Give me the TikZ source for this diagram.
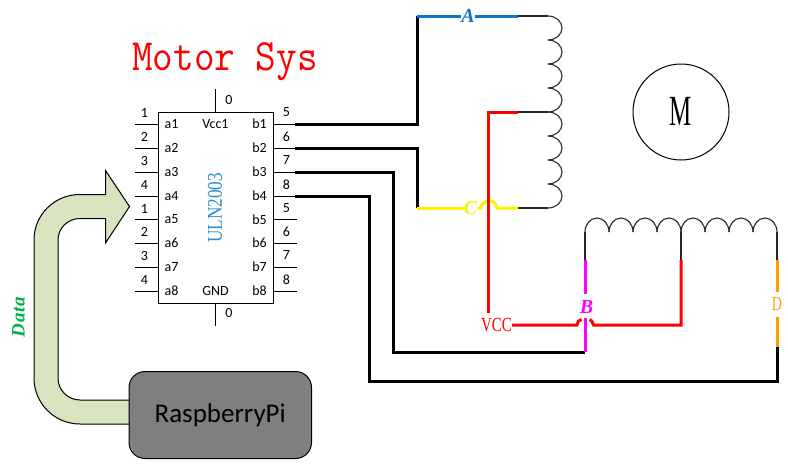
\documentclass[tikz,border=0pt]{standalone}
\usepackage{fontspec}
\setmainfont{Carlito}
\newfontfamily\serifface{Liberation Serif}
\newfontfamily\monoface{Latin Modern Mono}
\definecolor{chipblue}{HTML}{2E8BD0}
\definecolor{wireblue}{HTML}{0F75CC}
\definecolor{wireorange}{HTML}{FF9C00}
\definecolor{wiremagenta}{HTML}{FF00FF}
\definecolor{datagreen}{HTML}{00B050}
\definecolor{arrowfill}{HTML}{D8E3BF}
\definecolor{pigrey}{HTML}{7F7F7F}
\tikzset{
  chipbox/.style={draw=black,line width=1pt,fill=white,minimum width=115pt,minimum height=191pt,inner sep=0pt},
  pinline/.style={draw=black,line width=1pt},
  pinlabel/.style={inner sep=0pt,font=\fontsize{14}{14}\selectfont},
  wire/.style={line width=3pt,line join=miter},
  coilline/.style={draw=black!85,line width=1.1pt},
  letter/.style={inner sep=0pt,font=\serifface\bfseries\itshape\fontsize{20}{20}\selectfont},
}
\newcommand{\coilV}[1]{%
  \foreach \s in {0,24,48,72} {
    \draw[coilline] (548,#1+\s) .. controls (555.7,#1+\s) and (562,#1+\s+5.4) .. (562,#1+\s+12)
      .. controls (562,#1+\s+18.6) and (555.7,#1+\s+24) .. (548,#1+\s+24);
  }}
\newcommand{\coilH}[1]{%
  \foreach \s in {0,24,48,72} {
    \draw[coilline] (#1+\s,232) .. controls (#1+\s,224.3) and (#1+\s+5.4,218) .. (#1+\s+12,218)
      .. controls (#1+\s+18.6,218) and (#1+\s+24,224.3) .. (#1+\s+24,232);
  }}
\begin{document}
\begin{tikzpicture}[x=1pt,y=-1pt]
\useasboundingbox (0,0) rectangle (788,466);

% title
\node[inner sep=0pt,text=red,yscale=1.12,font=\monoface\fontsize{40}{40}\selectfont] (title) at (225,61.5) {Motor Sys};

% chip
\node[chipbox] (chip) at (215.75,207.5) {};
\node[inner sep=0pt,rotate=90,xscale=.82,text=chipblue,font=\serifface\fontsize{21}{21}\selectfont] (chipname) at (215,208) {ULN2003};
\coordinate (vcctop) at (215.5,89);
\coordinate (vccbot) at (215.5,112);
\coordinate (gndtop) at (215.5,303);
\coordinate (gndbot) at (215.5,326);
\draw[pinline] (vcctop) -- (vccbot);
\draw[pinline] (gndtop) -- (gndbot);
\node[pinlabel] (vcczero) at (229,100.5) {0};
\node[pinlabel] (gndzero) at (229,313.5) {0};
\node[pinlabel] (vcclab) at (215.5,124) {Vcc1};
\node[pinlabel] (gndlab) at (215.5,291) {GND};

\foreach \i/\yy/\n/\m in {1/124/1/5,2/148/2/6,3/172/3/7,4/196/4/8,5/219.5/1/5,6/243/2/6,7/267/3/7,8/291/4/8} {
  \coordinate (la\i) at (135,\yy);
  \coordinate (lb\i) at (158,\yy);
  \coordinate (ra\i) at (273.5,\yy);
  \coordinate (rb\i) at (297,\yy);
  \draw[pinline] (la\i) -- (lb\i);
  \draw[pinline] (ra\i) -- (rb\i);
  \node[pinlabel] (a\i) at (171.5,\yy) {a\i};
  \node[pinlabel] (b\i) at (259.5,\yy) {b\i};
  \node[pinlabel] (ln\i) at (144.5,\yy-11) {\n};
  \node[pinlabel] (rn\i) at (286.5,\yy-11.5) {\m};
}

% motor
\node[draw=black,line width=1pt,circle,minimum size=96pt,inner sep=0pt] (motor) at (681,112) {};
\node[inner sep=0pt,xscale=.58,font=\serifface\fontsize{43}{43}\selectfont] (motorM) at (681,111) {M};

% coils
\coilV{16}
\coilV{112}
\coilH{585}
\coilH{681}

% coordinates of wiring
\coordinate (A1) at (417,16);
\coordinate (A2) at (518,16);
\coordinate (A3) at (548,16);
\coordinate (AM) at (518,112);
\coordinate (AM2) at (548,112);
\coordinate (C1) at (417,208);
\coordinate (C2) at (518,208);
\coordinate (C3) at (548,208);
\coordinate (Rc) at (488.5,112);
\coordinate (Rv) at (488.5,313);
\coordinate (b1s) at (295,124);
\coordinate (b2s) at (295,148);
\coordinate (b3s) at (295,172);
\coordinate (b4s) at (295,196);
\coordinate (Bt) at (585,232);
\coordinate (Bu) at (585,260);
\coordinate (Bv) at (585,294);
\coordinate (Bw) at (585,318);
\coordinate (Bx) at (585,352);
\coordinate (Mt) at (681,232);
\coordinate (Mu) at (681,260);
\coordinate (Mv) at (681,325);
\coordinate (Dt) at (777,232);
\coordinate (Du) at (777,260);
\coordinate (Dv) at (777,291.5);
\coordinate (Dw) at (777,317);
\coordinate (Dx) at (777,346.5);
\coordinate (Dy) at (777,381);
\coordinate (b3c) at (393,172);
\coordinate (b4c) at (369,196);

% thin leads
\draw[coilline] (A2) -- (A3);
\draw[coilline] (AM) -- (AM2);
\draw[coilline] (C2) -- (C3);
\draw[coilline] (Bt) -- (Bu);
\draw[coilline] (Mt) -- (Mu);
\draw[coilline] (Dt) -- (Du);

% labels
\node[letter,text=wireblue] (Alab) at (468,16) {A};
\node[letter,text=yellow] (Clab) at (470.5,208) {C};
\node[letter,text=wiremagenta] (Blab) at (586.5,306.5) {B};
\node[inner sep=0pt,text=wireorange,font=\serifface\fontsize{20}{20}\selectfont,xscale=.7] (Dlab) at (777,304) {D};
\node[inner sep=0pt,text=red,font=\serifface\fontsize{20}{20}\selectfont,xscale=.75] (Vlab) at (496.5,325) {VCC};

% black wires
\draw[wire] (b1s) -| (A1);
\draw[wire] (b2s) -| (C1);
\draw[wire] (b3s) -- (b3c) |- (Bx);
\draw[wire] (b4s) -- (b4c) |- (Dy) -- (Dx);

% coloured wires
\draw[wire,wireblue] (A1) -- (Alab.west |- A1);
\draw[wire,wireblue] (Alab.east |- A1) -- (A2);
\draw[wire,yellow] (C1) -- (Clab.west |- C1);
\draw[wire,yellow] (Clab.east |- C1) -- (480.5,208) .. controls (482,200) and (495,197) .. (497,208) -- (C2);
\draw[wire,red] (AM) -- (Rc) -- (Rv);
\draw[wire,red] (Vlab.east |- Mv) -- (577,325) .. controls (578,322) and (578.5,319.5) .. (581.5,319.5);
\draw[wire,red] (589.5,319.5) .. controls (592,319.5) and (592,322) .. (593.5,325) -- (Mv) -- (Mu);
\draw[wire,wiremagenta] (Bu) -- (Bv);
\draw[wire,wiremagenta] (Bw) -- (Bx);
\draw[wire,wireorange] (Du) -- (Dv);
\draw[wire,wireorange] (Dw) -- (Dx);

% data arrow
\draw[draw=black,line width=1pt,fill=arrowfill]
  (130,424) -- (80,424) .. controls (54.6,424) and (34,403.4) .. (34,378)
  -- (34,240) .. controls (34,214.6) and (54.6,194.5) .. (80,194.5)
  -- (105.5,194.5) -- (105.5,170.5) -- (129.5,206.5) -- (105.5,243) -- (105.5,218.5)
  -- (80,218.5) .. controls (67.9,218.5) and (58,228) .. (58,240)
  -- (58,378) .. controls (58,390.2) and (67.9,400) .. (80,400) -- (130,400);
\node[inner sep=0pt,rotate=90,text=datagreen,font=\serifface\bfseries\itshape\fontsize{19}{19}\selectfont] (datalab) at (18.5,317) {D\kern.7pt a\kern.7pt t\kern.7pt a};

% raspberry pi
\node[draw=black,line width=1pt,fill=pigrey,rounded corners=16pt,minimum width=182.5pt,minimum height=87pt,inner sep=0pt,font=\fontsize{27}{27}\selectfont] (pi) at (220.25,415) {RaspberryPi};
\end{tikzpicture}
\end{document}
